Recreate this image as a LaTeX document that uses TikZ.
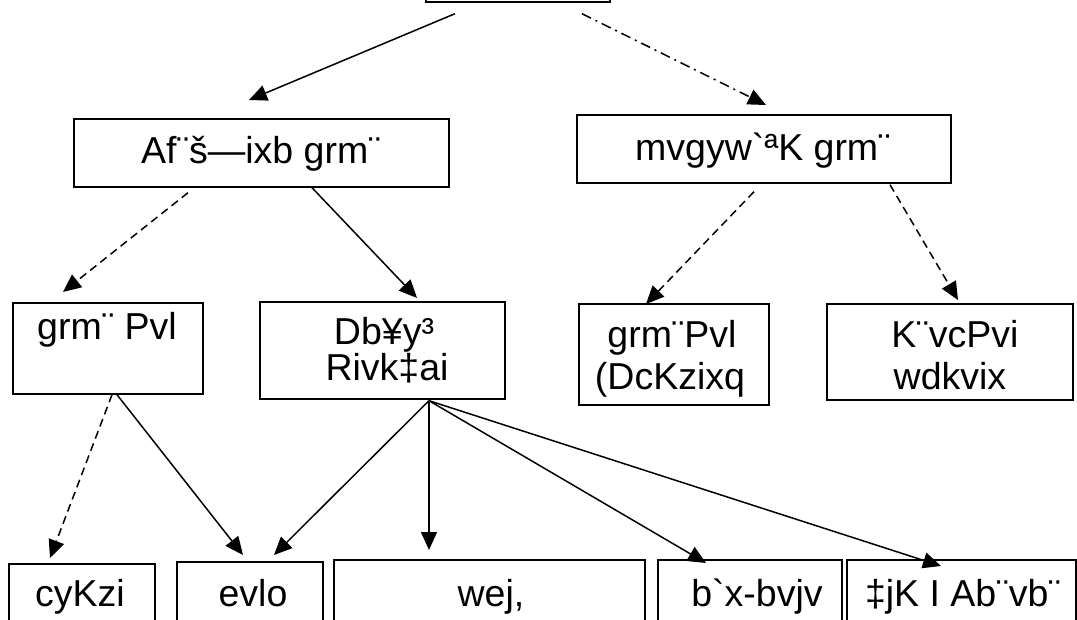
\documentclass[tikz,border=0pt]{standalone}
\usepackage{fontspec}
\setmainfont{Liberation Sans}[Ligatures=TeXOff]
\usetikzlibrary{arrows.meta,calc}
\tikzset{
  box/.style={draw=black, line width=1.7pt, fill=white, rectangle, inner sep=0pt, anchor=north west},
  txt/.style={inner sep=0pt, anchor=base, font=\fontsize{37.5}{42}\selectfont},
  conn/.style={line width=1.5pt, -{Triangle[length=18pt,width=16pt]}},
  dsh/.style={conn, dash pattern=on 8pt off 5pt},
  dshdot/.style={conn, dash pattern=on 10pt off 5pt on 2pt off 5pt},
}
\begin{document}
\begin{tikzpicture}[x=1pt,y=-1pt]
\useasboundingbox (0,0) rectangle (1077,620);
\fill[white] (0,0) rectangle (1077,620);
\clip (0,0) rectangle (1077,620);

% boxes
\node[box, minimum width=184pt, minimum height=61.5pt] (top) at (425,-60) {};
\node[box, minimum width=375pt, minimum height=68pt] (A) at (73,118) {};
\node[box, minimum width=374pt, minimum height=68pt] (B) at (576,114) {};
\node[box, minimum width=190pt, minimum height=91pt] (C) at (12,302) {};
\node[box, minimum width=245pt, minimum height=97pt] (D) at (259,301) {};
\node[box, minimum width=190pt, minimum height=101pt] (E) at (578,303) {};
\node[box, minimum width=246pt, minimum height=96pt] (F) at (826,303) {};
\node[box, minimum width=146pt, minimum height=100pt] (G) at (8,563) {};
\node[box, minimum width=146pt, minimum height=100pt] (H) at (176,561) {};
\node[box, minimum width=311pt, minimum height=100pt] (I) at (333,559) {};
\node[box, minimum width=184pt, minimum height=100pt] (J) at (657,559) {};
\node[box, minimum width=229pt, minimum height=100pt] (K) at (846,559) {};

% texts
\node[txt] (At) at (261,164) {Af¨š—ixb grm¨};
\node[txt] (Bt) at (763,161) {mvgyw`ªK grm¨};
\node[txt] (Ct) at (107,340) {grm¨ Pvl};
\node[txt] (Dt1) at (384,345) {Db¥y³};
\node[txt] (Dt2) at (387,381) {Rivk‡ai};
\begin{scope}
  \clip (E.north west) rectangle ($(E.south east)+(0,-8)$);
  \node[txt] (Et1) at (672,348) {grm¨Pvl};
  \node[txt] (Et2) at (670,390) {(DcKzixq};
\end{scope}
\node[txt] (Ft1) at (955,348) {K¨vcPvi};
\node[txt] (Ft2) at (950,390) {wdkvix};
\node[txt] (Gt) at (80,606) {cyKzi};
\node[txt] (Ht) at (253,606) {evlo};
\node[txt] (It) at (491,606) {wej,};
\node[txt] (Jt) at (757,606) {b`x-bvjv};
\node[txt] (Kt) at (963,606) {‡jK I Ab¨vb¨};

% free ends
\coordinate (tA) at (249,100);
\coordinate (tB) at (766,105);
\coordinate (tC) at (63,292);
\coordinate (tD) at (417,298);
\coordinate (tE) at (646,304);
\coordinate (tF) at (958,300);
\coordinate (tG) at (50,558);
\coordinate (tH1) at (243,555);
\coordinate (tH2) at (274,555);
\coordinate (tI) at (429,550);
\coordinate (tJ) at (706,563);
\coordinate (tK) at (941,566);

% connectors
\draw[conn] ($(top.south west)+(30,10.5)$) -- (tA);
\draw[dshdot] ($(top.south west)+(157,10.5)$) -- (tB);
\draw[dsh] ($(A.south west)+(115,5)$) -- (tC);
\draw[conn] ($(A.south west)+(239,0)$) -- (tD);
\draw[dsh] ($(B.south west)+(178,8)$) -- (tE);
\draw[dsh] ($(B.south west)+(314,1)$) -- (tF);
\draw[dsh] ($(C.south west)+(100,0)$) -- (tG);
\draw[conn] ($(C.south west)+(105,0)$) -- (tH1);
\draw[conn] ($(D.south west)+(170,1)$) -- (tH2);
\draw[conn] ($(D.south west)+(170,1)$) -- (tI);
\draw[conn] ($(D.south west)+(170,1)$) -- (tJ);
\draw[conn] ($(D.south west)+(170,1)$) -- (tK);
\end{tikzpicture}
\end{document}
